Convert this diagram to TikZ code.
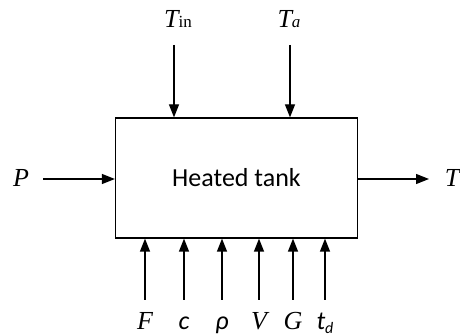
\documentclass[tikz,border=0pt]{standalone}
\usepackage{fontspec}
\setmainfont{Liberation Serif}
\newfontfamily\carl{Carlito}
\usetikzlibrary{arrows.meta}
\begin{document}
\begin{tikzpicture}[x=1pt,y=-1pt,
  conn/.style={draw,line width=1.3pt,-{Triangle[length=13pt,width=10pt]}},
  lbl/.style={font=\fontsize{26}{28}\selectfont\itshape,inner sep=0pt},
  slbl/.style={font=\fontsize{26}{28}\selectfont\carl\itshape,inner sep=0pt}]
\useasboundingbox (0,0) rectangle (460,336);
\node[draw,line width=1.3pt,minimum width=242pt,minimum height=120pt,inner sep=0pt,
  font=\fontsize{26}{28}\selectfont\carl] (tank) at (236.5,178) {Heated tank};
% top inputs
\node[lbl,anchor=base] (tin) at (178,28) {T\fontsize{17}{18}\selectfont\upshape in};
\node[lbl,anchor=base] (ta) at (289,28) {T\fontsize{17}{18}\selectfont a};
\coordinate (tinS) at (174,45);
\coordinate (taS) at (290,45);
\draw[conn] (tinS) -- (tinS |- tank.north);
\draw[conn] (taS) -- (taS |- tank.north);
% left / right
\node[lbl,anchor=base] (p) at (21,187) {P};
\coordinate (pS) at (43,179);
\draw[conn] (pS) -- (tank.west |- pS);
\coordinate (tE) at (429,179);
\draw[conn] (tank.east |- tE) -- (tE);
\node[lbl,anchor=base] (t) at (452,187) {T};
% bottom inputs
\foreach \nm/\x/\txt/\st in {F/145/F/lbl, c/184/c/slbl, rho/222/ρ/slbl, V/259/V/lbl, G/293/G/lbl, td/325/{t\raisebox{-3pt}{\fontsize{16}{17}\selectfont d}}/slbl}{
  \coordinate (\nm S) at (\x,300);
  \draw[conn] (\nm S) -- (\nm S |- tank.south);
  \node[\st,anchor=base] (\nm L) at (\x,330) {\txt};
}
\end{tikzpicture}
\end{document}
